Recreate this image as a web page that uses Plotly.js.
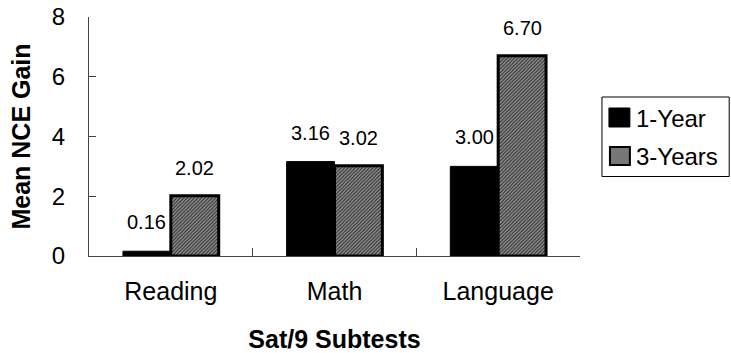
<!DOCTYPE html>
<html>
<head>
<meta charset="utf-8">
<script src="https://cdn.plot.ly/plotly-3.0.1.min.js"></script>
<style>
html,body{margin:0;padding:0;background:#fff;}
#chart{width:731px;height:353px;}
</style>
</head>
<body>
<div id="chart"></div>
<script>
// ---- data ----
const categories = ["Reading", "Math", "Language"];
const oneYear = [0.16, 3.16, 3.00];
const threeYears = [2.02, 3.02, 6.70];
const seriesNames = ["1-Year", "3-Years"];
const yTickVals = [0, 2, 4, 6, 8];
const yTickText = ["0", "2", "4", "6", "8"];

const FONT = "Liberation Sans, Arial, sans-serif";
const bargap = 0.415;
const half = (1 - bargap) / 4; // offset of each bar centre from category centre

const hatch = {shape: "/", bgcolor: "#9c9c9c", fgcolor: "#2a2a2a", size: 2.5, solidity: 0.45, fillmode: "replace"};

const traces = [
  {
    type: "bar", name: seriesNames[0], x: categories, y: oneYear,
    marker: {color: "#000000", line: {color: "#000000", width: 1}},
    hoverinfo: "skip", showlegend: false
  },
  {
    type: "bar", name: seriesNames[1], x: categories, y: threeYears,
    marker: {color: "#7a7a7a", pattern: hatch, line: {color: "#000000", width: 3}},
    hoverinfo: "skip", showlegend: false
  }
];

const annotations = [];
categories.forEach((c, i) => {
  annotations.push({x: i - half, y: oneYear[i], xref: "x", yref: "y", text: oneYear[i].toFixed(2),
    showarrow: false, yanchor: "bottom", yshift: 16, font: {family: FONT, size: 20, color: "#000"}});
  annotations.push({x: i + half, y: threeYears[i], xref: "x", yref: "y", text: threeYears[i].toFixed(2),
    showarrow: false, yanchor: "bottom", yshift: 15, font: {family: FONT, size: 20, color: "#000"}});
});

// ---- custom legend (paper coordinates; plot area is 492 x 239 px) ----
const px = v => (v - 89) / 492;
const py = v => (256 - v) / 239;
const shapes = [
  {type: "rect", xref: "paper", yref: "paper", x0: px(603), x1: px(730.5), y0: py(176.5), y1: py(97),
   line: {color: "#000", width: 1}, fillcolor: "rgba(0,0,0,0)"},
  {type: "rect", xref: "paper", yref: "paper", x0: px(610), x1: px(631), y0: py(127), y1: py(108),
   line: {color: "#000", width: 1}, fillcolor: "#000"},
  {type: "rect", xref: "paper", yref: "paper", x0: px(611), x1: px(631), y0: py(165), y1: py(147),
   line: {color: "#000", width: 2}, fillcolor: "#777777"}
];
annotations.push({xref: "paper", yref: "paper", x: px(635), y: py(118), xanchor: "left", yanchor: "middle",
  text: seriesNames[0], showarrow: false, font: {family: FONT, size: 24, color: "#000"}});
annotations.push({xref: "paper", yref: "paper", x: px(635), y: py(156.5), xanchor: "left", yanchor: "middle",
  text: seriesNames[1], showarrow: false, font: {family: FONT, size: 24, color: "#000"}});

const layout = {
  width: 731, height: 353,
  margin: {l: 89, r: 151, t: 17, b: 97, pad: 0, autoexpand: false},
  paper_bgcolor: "#ffffff", plot_bgcolor: "#ffffff",
  barmode: "group", bargap: bargap, bargroupgap: 0,
  font: {family: FONT, color: "#000"},
  showlegend: false,
  xaxis: {
    type: "category",
    showline: true, linecolor: "#444", linewidth: 1,
    ticks: "inside", tickson: "boundaries", ticklen: 8, tickcolor: "#444",
    tickfont: {family: FONT, size: 25, color: "#000"},
    ticklabelstandoff: 13,
    showgrid: false, zeroline: false,
    title: {text: "<b>Sat/9 Subtests</b>", font: {family: FONT, size: 25, color: "#000"}, standoff: 27}
  },
  yaxis: {
    range: [0, 8], tickvals: yTickVals, ticktext: yTickText,
    showline: true, linecolor: "#444", linewidth: 1,
    ticks: "inside", ticklen: 7, tickcolor: "#444",
    tickfont: {family: FONT, size: 24, color: "#000"},
    ticklabelstandoff: 18,
    showgrid: false, zeroline: false,
    title: {text: "<b>Mean NCE Gain</b>", font: {family: FONT, size: 25, color: "#000"}, standoff: 14}
  },
  shapes: shapes,
  annotations: annotations
};

Plotly.newPlot("chart", traces, layout, {displayModeBar: false, staticPlot: true});
</script>
</body>
</html>
